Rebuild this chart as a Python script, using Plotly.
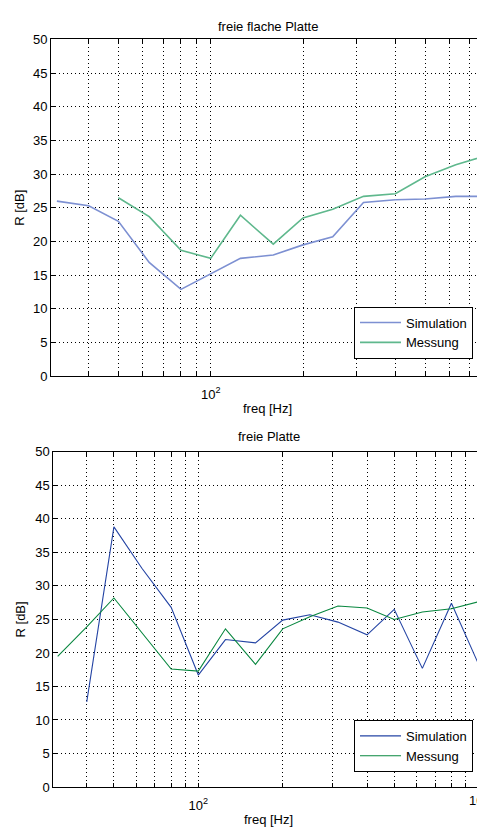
import numpy as np
import plotly.graph_objects as go

# ---------------- data ----------------
freq = [31.5, 40, 50, 63, 80, 100, 125, 160, 200, 250, 315, 400, 500, 630, 800, 1000]

# top panel: "freie flache Platte"
top_sim_freq = freq[0:15]
top_sim = [26.0, 25.3, 23.0, 16.9, 12.9, 15.2, 17.5, 18.0, 19.5, 20.7, 25.8, 26.2, 26.3, 26.7, 26.7]
top_mess_freq = freq[2:15]
top_mess = [26.5, 23.7, 18.7, 17.5, 23.9, 19.6, 23.5, 24.8, 26.7, 27.1, 29.6, 31.4, 32.8]

# bottom panel: "freie Platte"
bot_sim_freq = freq[1:16]
bot_sim = [12.7, 38.8, 32.6, 26.8, 16.7, 22.0, 21.5, 24.9, 25.7, 24.6, 22.7, 26.5, 17.7, 27.4, 18.3]
bot_mess_freq = freq[0:16]
bot_mess = [19.5, 23.9, 28.2, 23.0, 17.6, 17.3, 23.6, 18.3, 23.6, 25.4, 27.0, 26.7, 25.0, 26.1, 26.6, 27.65]

top_minor = [40, 50, 60, 70, 80, 90, 200, 300, 400, 500, 600, 700]
bot_minor = [40, 50, 60, 70, 80, 90, 200, 300, 400, 500, 600, 700, 800, 900]
major_ticks = [100]
major_labels = ["10<sup>2</sup>"]
y_ticks = [0, 5, 10, 15, 20, 25, 30, 35, 40, 45, 50]

titles = ["freie flache Platte", "freie Platte"]
series_names = ["Simulation", "Messung"]

# ---------------- layout geometry ----------------
W, H = 477, 834
FONT = "Arial, Liberation Sans, sans-serif"

def px_x(v):
    return v / W

def px_y(v):
    return 1 - v / H

fig = go.Figure()

fig.add_trace(go.Scatter(x=top_sim_freq, y=top_sim, mode="lines", name=series_names[0],
                         line=dict(color="#7d90d2", width=1.6), xaxis="x", yaxis="y", legend="legend"))
fig.add_trace(go.Scatter(x=top_mess_freq, y=top_mess, mode="lines", name=series_names[1],
                         line=dict(color="#5fb88d", width=1.6), xaxis="x", yaxis="y", legend="legend"))
fig.add_trace(go.Scatter(x=bot_sim_freq, y=bot_sim, mode="lines", name=series_names[0],
                         line=dict(color="#2444a4", width=1.1), xaxis="x2", yaxis="y2", legend="legend2"))
fig.add_trace(go.Scatter(x=bot_mess_freq, y=bot_mess, mode="lines", name=series_names[1],
                         line=dict(color="#08873f", width=1.1), xaxis="x2", yaxis="y2", legend="legend2"))

grid_style = dict(showgrid=True, gridcolor="black", griddash="1px,3px", gridwidth=1)

common_x = dict(type="log", showline=True, linecolor="black", linewidth=1, mirror="ticks",
                ticks="inside", ticklen=4, tickcolor="black", zeroline=False,
                tickfont=dict(family=FONT, size=13, color="black"), tickmode="array",
                tickvals=major_ticks, ticktext=major_labels, ticklabelstandoff=6,
                **grid_style)
common_y = dict(range=[0, 50], showline=True, linecolor="black", linewidth=1, mirror=False,
                ticks="inside", ticklen=4, tickcolor="black", zeroline=False, tickmode="array",
                tickvals=y_ticks, ticktext=[str(v) for v in y_ticks],
                tickfont=dict(family=FONT, size=13, color="black"), **grid_style)

def minor(vals):
    return dict(tickmode="array", tickvals=vals, ticks="inside", ticklen=4, tickcolor="black",
                **grid_style)

top_left = 51
top_100, top_dec = 210.7, 306.6
bot_left = 53.3
bot_100, bot_dec = 198.3, 280.3

legend_style = dict(xanchor="right", yanchor="top", bgcolor="white", bordercolor="black",
                    borderwidth=1, itemwidth=41, tracegroupgap=0,
                    font=dict(family=FONT, size=13, color="black"))

fig.update_layout(
    width=W, height=H, margin=dict(l=0, r=0, t=0, b=0),
    paper_bgcolor="white", plot_bgcolor="white",
    font=dict(family=FONT, size=13, color="black"),
    xaxis=dict(common_x, domain=[px_x(top_left), 1],
               range=[2 - (top_100 - top_left) / top_dec, 2 + (W - top_100) / top_dec],
               minor=minor(top_minor), anchor="y"),
    yaxis=dict(common_y, domain=[px_y(376), px_y(33)], anchor="x"),
    xaxis2=dict(common_x, domain=[px_x(bot_left), 1],
                range=[2 - (bot_100 - bot_left) / bot_dec, 2 + (W - bot_100) / bot_dec],
                minor=minor(bot_minor), anchor="y2"),
    yaxis2=dict(common_y, domain=[px_y(794.3), px_y(453)], anchor="x2"),
    legend=dict(legend_style, x=px_x(473), y=px_y(305)),
    legend2=dict(legend_style, x=px_x(473), y=px_y(726)),
    showlegend=True,
)

ann = []
def add_text(txt, x, y, angle=0):
    ann.append(dict(text=txt, x=px_x(x), y=px_y(y), xref="paper", yref="paper",
                    xanchor="center", yanchor="middle", showarrow=False, textangle=angle,
                    font=dict(family=FONT, size=13, color="black")))

add_text(titles[0], 268, 20)
add_text(titles[1], 269, 437.5)
add_text("R [dB]", 20, 204.5, -90)
add_text("R [dB]", 20, 623.7, -90)
add_text("freq [Hz]", 267, 409)
add_text("freq [Hz]", 268, 827)
# 10^3 tick label of the lower axis, which lies at the clipped right edge (as in the reference)
add_text("10<sup>3</sup>", bot_100 + bot_dec, 808)
fig.update_layout(annotations=ann)

fig.write_html("out.html")
